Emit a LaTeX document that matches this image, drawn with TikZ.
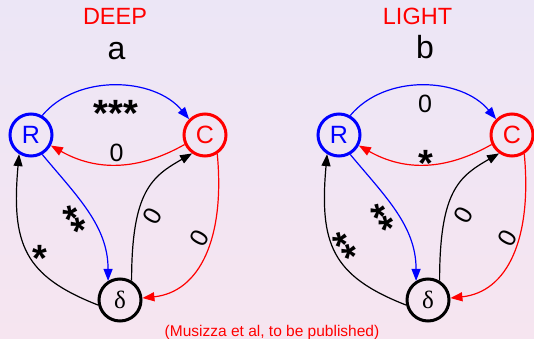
\documentclass[tikz,border=0pt]{standalone}
\usepackage{fontspec}
\setmainfont{Liberation Sans}
\newfontfamily\greekserif{Liberation Serif}
\usetikzlibrary{arrows.meta}

\definecolor{bgtop}{RGB}{236,230,246}
\definecolor{bgbot}{RGB}{246,229,240}

% asterisks sit high in the font: centre them on the node
\newcommand\lblstars[1]{\raisebox{-0.58em}[0pt][0pt]{#1}}

\begin{document}
\begin{tikzpicture}[x=1pt,y=1pt,
  state/.style={circle, draw, line width=3pt, minimum size=42pt, inner sep=0pt,
                font=\fontsize{25}{25}\selectfont},
  link/.style={line width=1.2pt, -{Triangle[length=12pt,width=9pt]}},
  zero/.style={font=\fontsize{25}{25}\selectfont, inner sep=0pt},
  starlbl/.style={font=\fontsize{38}{38}\selectfont\bfseries, inner sep=0pt},
  title/.style={red, font=\fontsize{23.5}{23.5}\selectfont, anchor=base},
  panel/.style={font=\fontsize{32}{32}\selectfont, anchor=base},
]
% background
\fill[top color=bgtop, bottom color=bgbot] (0,0) rectangle (534,-339);
\useasboundingbox (0,0) rectangle (534,-339);

% ---------- panel a ----------
\node[title] (ta) at (115,-25) {DEEP};
\node[panel] (pa) at (116.5,-60) {a};
\node[state, blue] (Ra) at (31,-135) {R};
\node[state, red]  (Ca) at (205,-135) {C};
\node[state, black](Da) at (120,-300) {\greekserif δ};

\draw[link, blue]  (Ra.60) .. controls +(35,42) and +(-35,42) .. (Ca.135);
\draw[link, red]   (Ca.205) .. controls +(-46,-26) and +(46,-26) .. (Ra.-28);
\draw[link, blue]  (Ra.-60) .. controls +(35,-42) and +(0,55) .. (Da.122);
\draw[link, black] (Da.-167) .. controls +(-74,29) and +(-8,-90) .. (Ra.-122);
\draw[link, black] (Da.59) .. controls +(0,90) and +(-40,-23) .. (Ca.-125);
\draw[link, red]   (Ca.-57) .. controls +(8,-85) and +(57,6) .. (Da.5);

\node[starlbl] (a1) at (116,-104) {\lblstars{***}};
\node[zero]    (a2) at (116.5,-152.5) {0};
\node[starlbl, rotate=-59] (a3) at (77.5,-217.5) {\lblstars{**}};
\node[starlbl] (a4) at (40,-249) {\lblstars{*}};
\node[zero, rotate=60] (a5) at (153,-216) {0};
\node[zero, rotate=60] (a6) at (200,-238) {0};

% ---------- panel b ----------
\node[title] (tb) at (417.5,-25) {LIGHT};
\node[panel] (pb) at (425,-58.5) {b};
\node[state, blue] (Rb) at (339,-135) {R};
\node[state, red]  (Cb) at (512,-135) {C};
\node[state, black](Db) at (428,-300) {\greekserif δ};

\draw[link, blue]  (Rb.60) .. controls +(35,42) and +(-35,42) .. (Cb.135);
\draw[link, red]   (Cb.205) .. controls +(-46,-26) and +(46,-26) .. (Rb.-28);
\draw[link, blue]  (Rb.-60) .. controls +(35,-42) and +(0,55) .. (Db.122);
\draw[link, black] (Db.-167) .. controls +(-74,29) and +(-8,-90) .. (Rb.-122);
\draw[link, black] (Db.59) .. controls +(0,90) and +(-40,-23) .. (Cb.-125);
\draw[link, red]   (Cb.-57) .. controls +(8,-85) and +(57,6) .. (Db.5);

\node[zero]    (b1) at (425,-104) {0};
\node[starlbl] (b2) at (426,-154) {\lblstars{*}};
\node[starlbl, rotate=-57] (b3) at (385,-215.5) {\lblstars{**}};
\node[starlbl, rotate=-55] (b4) at (347.5,-243.5) {\lblstars{**}};
\node[zero, rotate=60] (b5) at (464,-215) {0};
\node[zero, rotate=60] (b6) at (508,-238) {0};

% ---------- credit ----------
\node[red, font=\fontsize{15.5}{15.5}\selectfont, anchor=base] (cr) at (272,-336.5)
  {(Musizza et al, to be published)};
\end{tikzpicture}
\end{document}
